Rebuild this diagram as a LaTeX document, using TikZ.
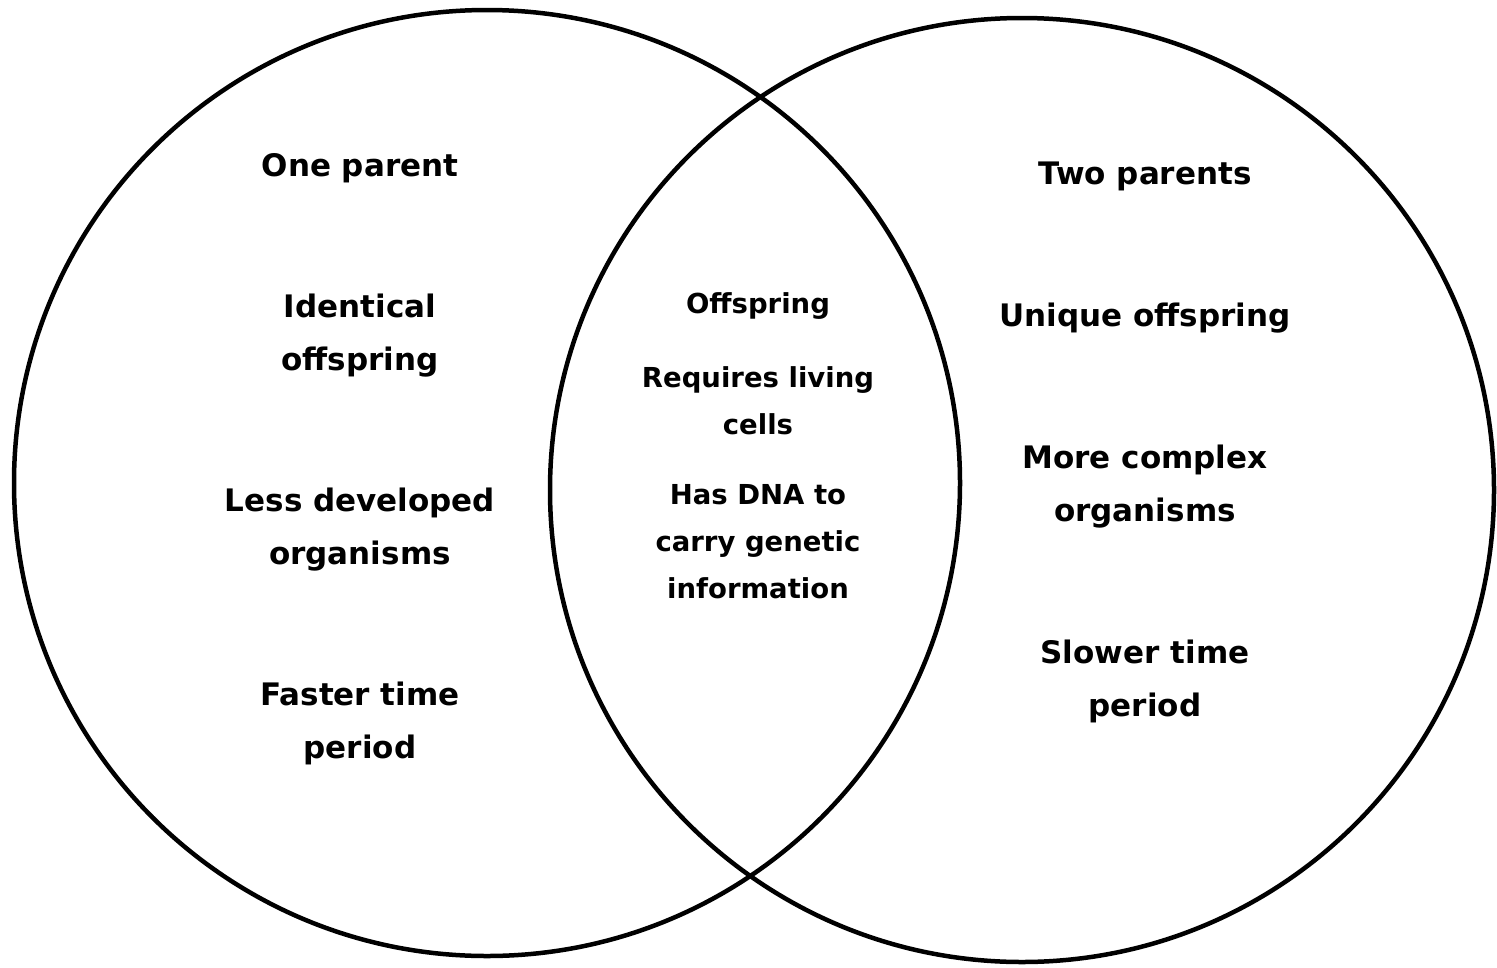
\documentclass[tikz,border=0pt]{standalone}
\usepackage{fontspec}
\setmainfont{DejaVu Sans}
\begin{document}
\begin{tikzpicture}[x=1pt,y=-1pt,
  ring/.style={draw=black,line width=4.5pt},
  big/.style={font=\bfseries\fontsize{31}{53}\selectfont,align=center,inner sep=0pt},
  mid/.style={font=\bfseries\fontsize{27.5}{47}\selectfont,align=center,inner sep=0pt}]
\useasboundingbox[fill=white] (0,0) rectangle (1497,967);
\draw[ring] (487,483) circle[radius=473];
\draw[ring] (1022,490) circle[radius=472];
\node[big] (a1) at (360,168) {One parent};
\node[big] (a2) at (360,336) {Identical\\offspring};
\node[big] (a3) at (360,530) {Less developed\\organisms};
\node[big] (a4) at (360,723) {Faster time\\period};
\node[big] (b1) at (1145,176) {Two parents};
\node[big] (b2) at (1145,318) {Unique offspring};
\node[big] (b3) at (1145,487) {More complex\\organisms};
\node[big] (b4) at (1145,681) {Slower time\\period};
\node[mid] (c1) at (758,306) {Offspring};
\node[mid] (c2) at (758,401) {Requires living\\cells};
\node[mid] (c3) at (758,542) {Has DNA to\\carry genetic\\information};
\end{tikzpicture}
\end{document}
